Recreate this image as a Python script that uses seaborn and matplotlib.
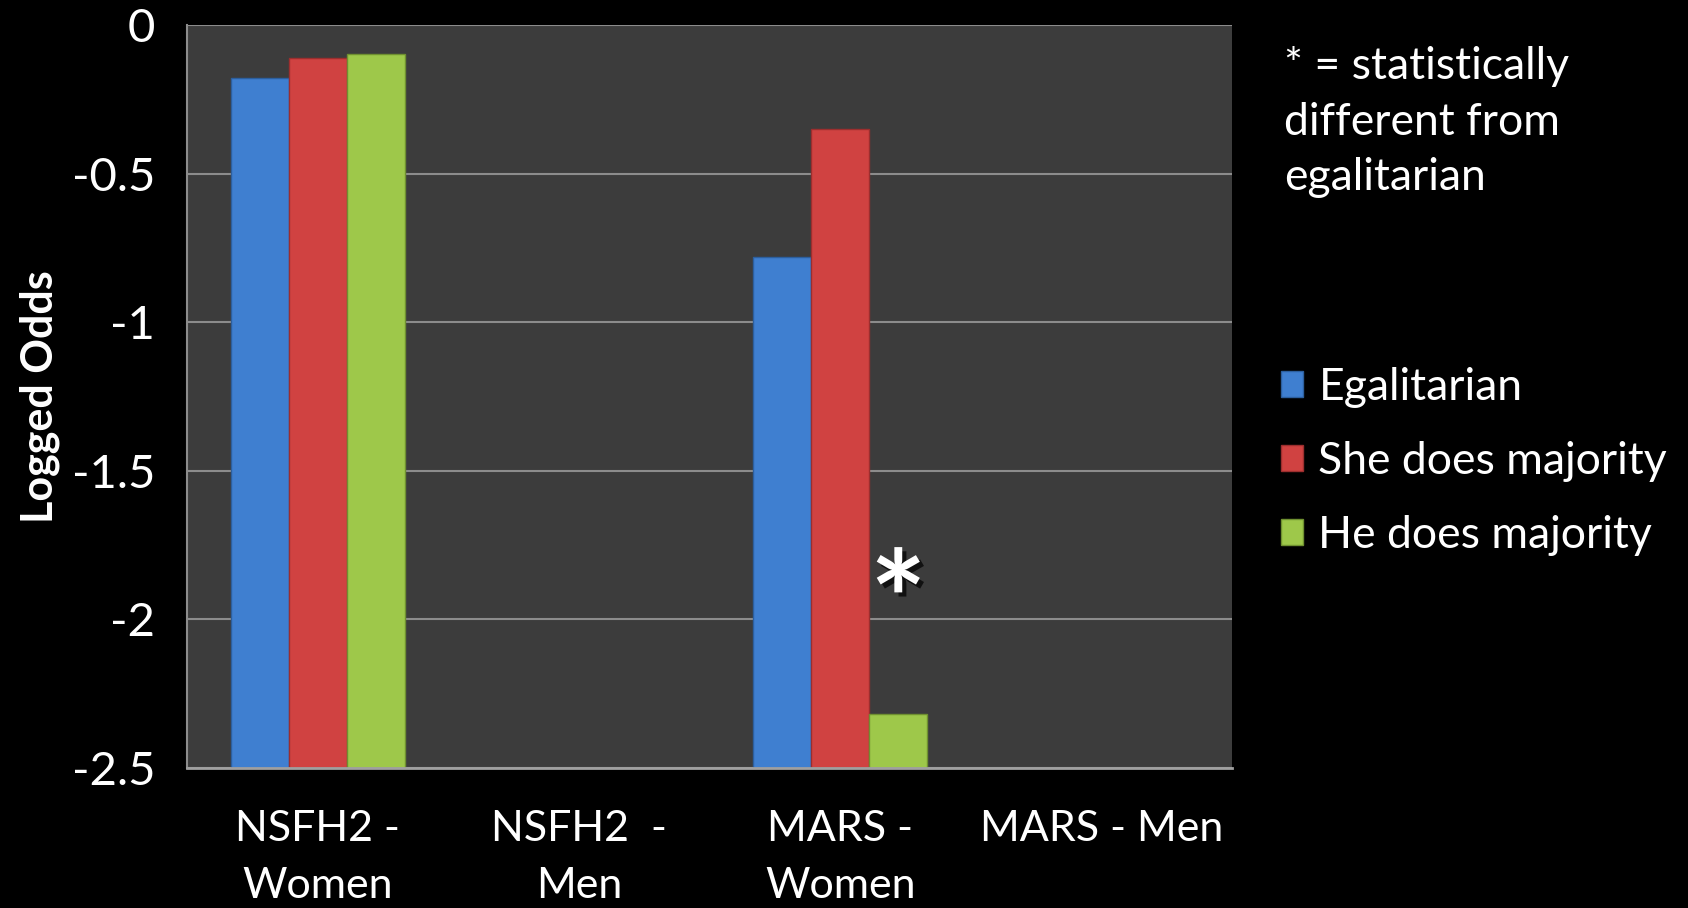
import numpy as np
import pandas as pd
import matplotlib
matplotlib.use("Agg")
import matplotlib.pyplot as plt
import matplotlib.patheffects as pe
from matplotlib.patches import Patch
import seaborn as sns

# Survey groups (x categories) and logged odds per division-of-labour type
groups = ["NSFH2 -\nWomen", "NSFH2  -\nMen", "MARS -\nWomen", "MARS - Men"]
series = ["Egalitarian", "She does majority", "He does majority"]
egalitarian = [-0.178, np.nan, -0.781, np.nan]
she_majority = [-0.111, np.nan, -0.350, np.nan]
he_majority = [-0.098, np.nan, -2.319, np.nan]
y_ticks = [0, -0.5, -1, -1.5, -2, -2.5]
y_tick_labels = ["0", "-0.5", "-1", "-1.5", "-2", "-2.5"]
significant = [("MARS -\nWomen", "He does majority")]

colors = ["#3f7fd0", "#d04241", "#9ec84a"]
edge_colors = ["#2c5f9e", "#9c2e2e", "#6f9030"]
base = -2.5  # the category axis crosses the value axis here

df = pd.DataFrame({
    "group": groups * 3,
    "series": [s for s in series for _ in groups],
    "value": egalitarian + she_majority + he_majority,
}).dropna()

sns.set_theme(style="dark")
plt.rcParams["font.family"] = ["Lato", "DejaVu Sans"]

fig = plt.figure(figsize=(16.88, 9.08), dpi=100, facecolor="black")
ax = fig.add_axes([0.1108, 0.1542, 0.6191, 0.8183])
ax.set_facecolor("#3c3c3c")

sns.barplot(data=df, x="group", y="value", hue="series", order=groups,
            hue_order=series, palette=colors, width=0.667, saturation=1,
            ax=ax, legend=False)

# Bars rise from the bottom of the value axis up to their value
for cont, ec in zip(ax.containers, edge_colors):
    for p in cont.patches:
        v = p.get_y() + p.get_height()
        p.set_y(base)
        p.set_height(v - base)
        p.set_edgecolor(ec)
        p.set_linewidth(1.0)

ax.set_ylim(base, 0)
ax.set_xlim(-0.5, len(groups) - 0.5)
ax.set_yticks(y_ticks)
ax.set_yticklabels(y_tick_labels)
ax.yaxis.grid(True, color="#8c8c8c", linewidth=1.5)
ax.xaxis.grid(False)
ax.set_axisbelow(True)

# Category boundary ticks on the x axis, labels at centres
ax.set_xticks(np.arange(len(groups)))
ax.set_xticklabels(groups, color="white", fontsize=31, linespacing=1.63)
ax.set_xticks(np.arange(len(groups) + 1) - 0.5, minor=True)
ax.tick_params(axis="x", which="major", length=0, pad=30)
ax.tick_params(axis="x", which="minor", length=15, width=1.3, color="#a0a0a0",
               direction="out")
ax.tick_params(axis="y", length=15, width=1.3, color="#8c8c8c", labelsize=34,
               labelcolor="white", pad=8, direction="out")
ax.set_xlabel("")
ax.set_ylabel("Logged Odds", color="white", fontsize=31, fontweight="bold",
              labelpad=8)

for side in ["top", "right"]:
    ax.spines[side].set_visible(False)
ax.spines["left"].set_color("#8c8c8c")
ax.spines["left"].set_linewidth(1.5)
ax.spines["bottom"].set_color("#a0a0a0")
ax.spines["bottom"].set_linewidth(2)

# Significance marker above the flagged bar
n_h = len(series)
bw = 0.667 / n_h
for grp, ser in significant:
    gi = groups.index(grp)
    si = series.index(ser)
    xs = gi - 0.667 / 2 + bw * (si + 0.5)
    val = df[(df.group == grp) & (df.series == ser)].value.iloc[0]
    ax.text(xs, val + 0.35, "*", color="white", fontsize=96, fontweight="bold",
            ha="center", va="center",
            path_effects=[pe.withSimplePatchShadow(offset=(3, -3),
                                                   shadow_rgbFace="black",
                                                   alpha=0.7)])

fig.text(0.7607, 0.949, "* = statistically\ndifferent from\negalitarian",
         color="white", fontsize=32, va="top", ha="left", linespacing=1.44)

handles = [Patch(facecolor=c, edgecolor=e, label=s)
           for c, e, s in zip(colors, edge_colors, series)]
leg = fig.legend(handles=handles, loc="upper left",
                 bbox_to_anchor=(0.735, 0.64), frameon=False, fontsize=32,
                 handlelength=0.5, handleheight=0.5, handletextpad=0.35,
                 labelspacing=0.74, labelcolor="white")

fig.savefig("out.png", dpi=100, facecolor="black")
